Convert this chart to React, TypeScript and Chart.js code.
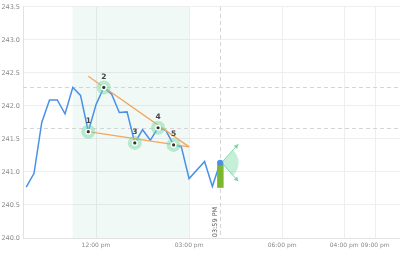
import React, { useEffect, useRef } from "react";
import { Chart, registerables } from "chart.js";

Chart.register(...registerables);

// Data (x in hours of day)
const times = [9.75, 10, 10.25, 10.5, 10.75, 11, 11.25, 11.5, 11.75, 12, 12.25, 12.5, 12.75, 13, 13.25, 13.5, 13.75, 14, 14.25, 14.5, 14.75, 15, 15.5, 15.75, 16];
const prices = [240.77, 240.98, 241.75, 242.09, 242.09, 241.88, 242.28, 242.16, 241.61, 242.02, 242.28, 242.18, 241.9, 241.91, 241.44, 241.64, 241.48, 241.67, 241.63, 241.41, 241.38, 240.9, 241.16, 240.78, 241.14];
const xTickValues = [12, 15, 18, 20, 21];
const xTickLabels = ["12:00 pm", "03:00 pm", "06:00 pm", "04:00 pm", "09:00 pm"];
const yTicks = [240, 240.5, 241, 241.5, 242, 242.5, 243, 243.5];
const patternIndices = [8, 10, 14, 17, 19];
const patternLabels = ["1", "2", "3", "4", "5"];
const upperTrend = [[11.75, 242.45], [15.0, 241.38]];
const lowerTrend = [[11.75, 241.61], [15.0, 241.38]];
const shadeRange = [11.25, 15.0];
const markerTime = 15.99;
const markerLabel = "03:59 PM";
const barRange = [241.14, 240.76];
const hLevels = [242.28, 241.665];
const sectorAngles = [-48, 48];

const overlayPlugin = {
  id: "overlay",
  beforeDatasetsDraw(chart: any) {
    const { ctx, chartArea, scales } = chart;
    const x = scales.x, y = scales.y;
    ctx.save();
    const x0 = x.getPixelForValue(shadeRange[0]);
    const x1 = x.getPixelForValue(shadeRange[1]);
    ctx.fillStyle = "rgba(90,185,140,0.09)";
    ctx.fillRect(x0, chartArea.top, x1 - x0, chartArea.bottom - chartArea.top);
    ctx.strokeStyle = "#d4d4d4";
    ctx.lineWidth = 1;
    ctx.setLineDash([4, 3]);
    for (const lv of hLevels) {
      const py = Math.round(y.getPixelForValue(lv)) + 0.5;
      ctx.beginPath();
      ctx.moveTo(chartArea.left, py);
      ctx.lineTo(chartArea.right, py);
      ctx.stroke();
    }
    const mx = Math.round(x.getPixelForValue(markerTime)) + 0.5;
    ctx.beginPath();
    ctx.moveTo(mx, chartArea.top);
    ctx.lineTo(mx, chartArea.bottom);
    ctx.stroke();
    ctx.setLineDash([]);
    ctx.restore();
  },
  afterDatasetsDraw(chart: any) {
    const { ctx, chartArea, scales } = chart;
    const x = scales.x, y = scales.y;
    ctx.save();
    ctx.strokeStyle = "#f5a560";
    ctx.lineWidth = 1.3;
    for (const seg of [upperTrend, lowerTrend]) {
      ctx.beginPath();
      ctx.moveTo(x.getPixelForValue(seg[0][0]), y.getPixelForValue(seg[0][1]));
      ctx.lineTo(x.getPixelForValue(seg[1][0]), y.getPixelForValue(seg[1][1]));
      ctx.stroke();
    }
    patternIndices.forEach((idx, i) => {
      const px = x.getPixelForValue(times[idx]);
      const py = y.getPixelForValue(prices[idx]);
      ctx.beginPath();
      ctx.arc(px, py, 7, 0, Math.PI * 2);
      ctx.fillStyle = "rgba(110,215,160,0.45)";
      ctx.fill();
      ctx.beginPath();
      ctx.arc(px, py, 3, 0, Math.PI * 2);
      ctx.fillStyle = "#ffffff";
      ctx.fill();
      ctx.beginPath();
      ctx.arc(px, py, 1.6, 0, Math.PI * 2);
      ctx.fillStyle = "#333333";
      ctx.fill();
      ctx.fillStyle = "#444444";
      ctx.font = "bold 7.5px 'DejaVu Sans'";
      ctx.textAlign = "center";
      ctx.textBaseline = "alphabetic";
      ctx.fillText(patternLabels[i], px, py - 8.5);
    });
    const li = times.length - 1;
    const bx = x.getPixelForValue(times[li]);
    const by0 = y.getPixelForValue(barRange[0]);
    const by1 = y.getPixelForValue(barRange[1]);
    ctx.fillStyle = "#7cb82f";
    ctx.fillRect(bx - 3, by0, 6.5, by1 - by0);
    const cx = bx + 1.5, cy = by0;
    const a0 = (sectorAngles[0] * Math.PI) / 180;
    const a1 = (sectorAngles[1] * Math.PI) / 180;
    ctx.beginPath();
    ctx.moveTo(cx, cy);
    ctx.arc(cx, cy, 17, a0, a1);
    ctx.closePath();
    ctx.fillStyle = "rgba(110,215,160,0.4)";
    ctx.fill();
    ctx.strokeStyle = "rgba(110,215,160,0.9)";
    ctx.fillStyle = "rgba(110,215,160,0.9)";
    ctx.lineWidth = 1;
    for (const a of [a0, a1]) {
      const ex = cx + Math.cos(a) * 25;
      const ey = cy + Math.sin(a) * 25;
      ctx.beginPath();
      ctx.moveTo(cx, cy);
      ctx.lineTo(ex, ey);
      ctx.stroke();
      ctx.beginPath();
      ctx.moveTo(ex, ey);
      ctx.lineTo(ex - Math.cos(a - 0.5) * 5, ey - Math.sin(a - 0.5) * 5);
      ctx.lineTo(ex - Math.cos(a + 0.5) * 5, ey - Math.sin(a + 0.5) * 5);
      ctx.closePath();
      ctx.fill();
    }
    ctx.beginPath();
    ctx.arc(bx, by0, 3, 0, Math.PI * 2);
    ctx.fillStyle = "#4a90e8";
    ctx.fill();
    const mx = x.getPixelForValue(markerTime);
    ctx.translate(mx - 4, chartArea.bottom - 16);
    ctx.rotate(-Math.PI / 2);
    ctx.fillStyle = "#555555";
    ctx.font = "6.5px 'DejaVu Sans'";
    ctx.textAlign = "center";
    ctx.textBaseline = "middle";
    ctx.fillText(markerLabel, 0, 0);
    ctx.restore();
  },
};

export default function App() {
  const ref = useRef<HTMLCanvasElement | null>(null);
  useEffect(() => {
    if (!ref.current) return;
    const chart = new Chart(ref.current, {
      type: "line",
      data: {
        datasets: [
          {
            data: times.map((t, i) => ({ x: t, y: prices[i] })),
            borderColor: "#4a90e8",
            borderWidth: 1.5,
            pointRadius: 0,
            tension: 0,
          },
        ],
      },
      options: {
        animation: false,
        responsive: true,
        maintainAspectRatio: false,
        layout: { padding: { top: 0, right: 0, left: 0, bottom: 0 } },
        plugins: { legend: { display: false }, tooltip: { enabled: false } },
        scales: {
          x: {
            type: "linear",
            min: 9.645,
            max: 21.8,
            afterBuildTicks: (s: any) => {
              s.ticks = xTickValues.map((v) => ({ value: v }));
            },
            afterFit: (s: any) => {
              s.height = 21;
            },
            ticks: {
              autoSkip: false,
              maxRotation: 0,
              color: "#888",
              font: { family: "'DejaVu Sans'", size: 6 },
              padding: 4,
              callback: (v: any) => {
                const i = xTickValues.indexOf(Number(v));
                return i >= 0 ? xTickLabels[i] : "";
              },
            },
            grid: { color: "#eeeeee", drawTicks: false },
            border: { color: "#e2e2e2" },
          },
          y: {
            min: 240,
            max: 243.5,
            afterBuildTicks: (s: any) => {
              s.ticks = yTicks.map((v) => ({ value: v }));
            },
            afterFit: (s: any) => {
              s.width = 23;
            },
            ticks: {
              color: "#888",
              font: { family: "'DejaVu Sans'", size: 6.5 },
              padding: 3,
              callback: (v: any) => Number(v).toFixed(1),
            },
            grid: { color: "#eeeeee", drawTicks: false },
            border: { color: "#e2e2e2" },
          },
        },
      },
      plugins: [overlayPlugin],
    } as any);
    return () => chart.destroy();
  }, []);
  return (
    <div style={{ position: "fixed", left: 0, top: 0, width: 400, height: 259 }}>
      <canvas ref={ref} />
    </div>
  );
}
